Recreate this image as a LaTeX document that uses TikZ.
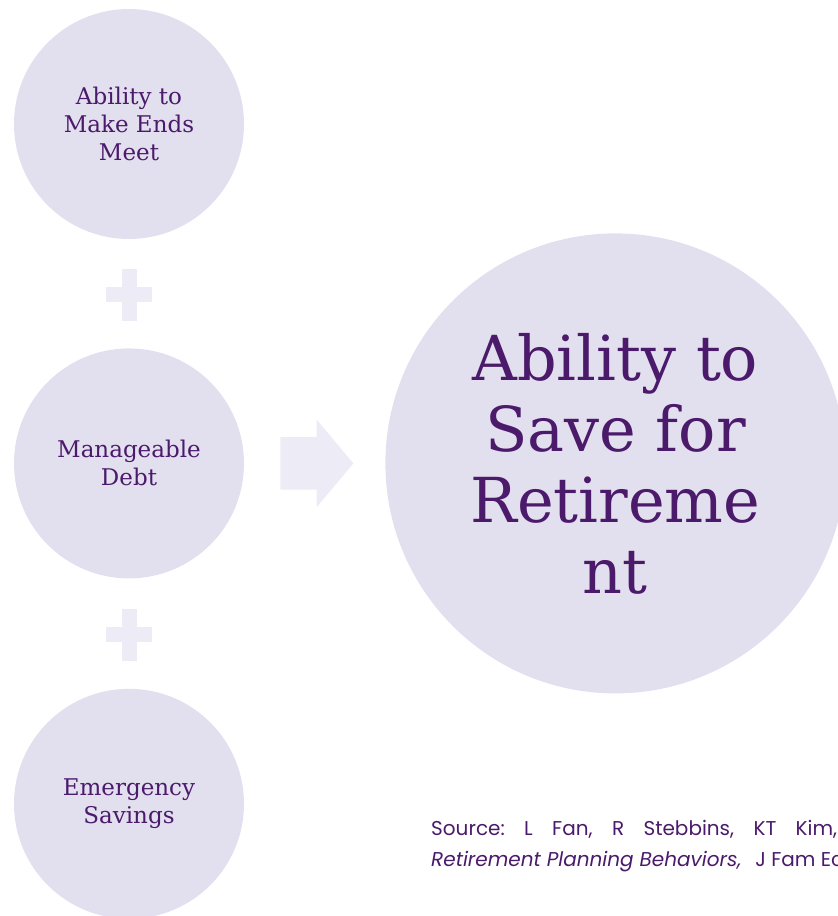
\documentclass[tikz,border=0pt]{standalone}
\usepackage{fontspec}
\setmainfont{DejaVu Serif}
\newfontfamily\srcfont{Poppins}
\usetikzlibrary{positioning,shapes.arrows}

\definecolor{discfill}{HTML}{E2DFEE}
\definecolor{signfill}{HTML}{EDEBF5}
\definecolor{inkpurple}{HTML}{4B1A6B}

\tikzset{
  plussign/.pic={
    \fill[signfill] (-23,-7.5) rectangle (23,7.5);
    \fill[signfill] (-7.5,-26) rectangle (7.5,26);
  }
}

\begin{document}
\begin{tikzpicture}[x=1pt, y=-1pt,
  disc/.style = {circle, fill=discfill, inner sep=0pt,
    minimum size=230pt, align=center, text=inkpurple,
    font=\fontsize{23}{28}\selectfont},
  bigdisc/.style = {disc, minimum size=460pt,
    font=\fontsize{62}{71}\selectfont},
  flow/.style = {single arrow, fill=signfill, inner xsep=0pt, inner ysep=26pt,
    minimum height=73pt,
    single arrow head extend=17.5pt, single arrow tip angle=100}]
  \useasboundingbox (0,0) rectangle (838,916);

  % the three inputs, stacked
  \node[disc] (ends) at (129,124) {Ability to\\Make Ends\\Meet};
  \node[disc, below=109pt of ends] (debt) {Manageable\\Debt};
  \node[disc, below=110pt of debt] (savings) {Emergency\\Savings};

  % the result
  \node[bigdisc, right=141pt of debt] (retire) {Ability to\\Save for\\Retireme\\nt};

  % plus signs between the inputs
  \path (ends) -- (debt) coordinate[pos=.5] (plusA);
  \path (debt) -- (savings) coordinate[pos=.5] (plusB);
  \pic at ([yshift=-1pt]plusA) {plussign};
  \pic at ([yshift=-1pt]plusB) {plussign};

  % arrow into the result
  \node[flow, anchor=tail] (into) at ([xshift=36pt]debt.east) {};

  % reference line
  \node[anchor=base west, align=left, text=inkpurple, inner sep=0pt,
    font=\srcfont\fontsize{20}{31}\selectfont] (source) at (431,866)
    {\hbox to 406pt{Source:\hfill L\hfill Fan,\hfill R\hfill Stebbins,\hfill KT\hfill Kim,}\\
     \textit{Retirement Planning Behaviors,}\hspace{14pt}J Fam Ec};
\end{tikzpicture}
\end{document}
